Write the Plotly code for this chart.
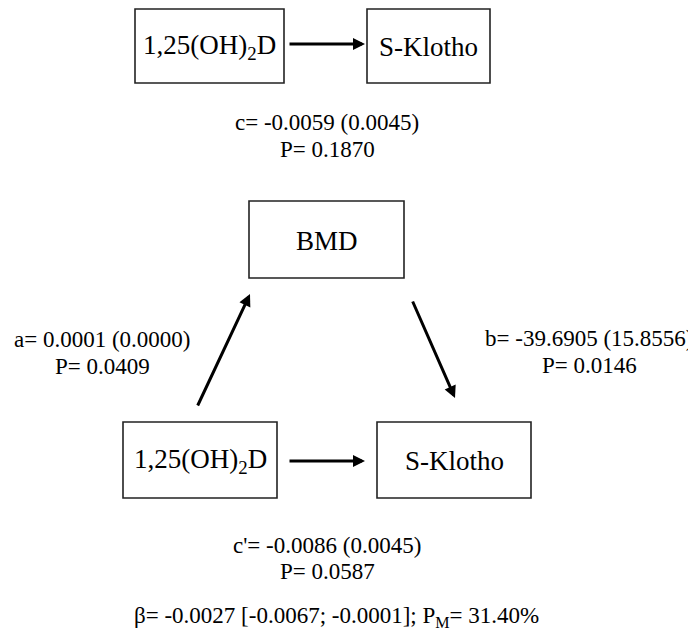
import plotly.graph_objects as go

# ---- data ----
exposure = "1,25(OH)<sub>2</sub>D"
outcome = "S-Klotho"
mediator = "BMD"

path_names = ["c", "a", "b", "c'"]
path_coef = [-0.0059, 0.0001, -39.6905, -0.0086]
path_se = [0.0045, 0.0000, 15.8556, 0.0045]
path_p = [0.1870, 0.0409, 0.0146, 0.0587]

indirect_beta = -0.0027
indirect_ci = [-0.0067, -0.0001]
prop_mediated = 31.40

# ---- layout geometry (pixels of the 696x637 window) ----
W, H = 696, 637
PAD = 8  # default page body margin
FONT = "Liberation Serif, Times New Roman, serif"
BOX_FS = 27
TXT_FS = 23

boxes = {
    "top_exp": (135, 9, 284, 83),
    "top_out": (367, 9, 490, 83),
    "med": (249, 201, 404, 278),
    "bot_exp": (123, 422, 277, 498),
    "bot_out": (377, 422, 531, 498),
}
box_labels = {
    "top_exp": exposure, "top_out": outcome, "med": mediator,
    "bot_exp": exposure, "bot_out": outcome,
}

arrows = [  # (tail_x, tail_y, head_x, head_y)
    (288, 44, 365, 44),
    (197, 407, 250, 294),
    (412, 300, 455, 398),
    (288, 461, 365, 461),
]

# label line positions for each path: (center_x, y_line1, y_line2)
label_pos = [(327, 122, 149), (102, 339, 366), (589, 338, 365), (327, 545, 571)]

fig = go.Figure()
shapes = []
annotations = []

for key, (x0, y0, x1, y1) in boxes.items():
    shapes.append(dict(type="rect", xref="x", yref="y", x0=x0, y0=y0, x1=x1, y1=y1,
                       line=dict(color="#222222", width=1.6), fillcolor="white", layer="below"))
    annotations.append(dict(x=(x0 + x1) / 2, y=(y0 + y1) / 2 + 1, xref="x", yref="y",
                            text=box_labels[key], showarrow=False,
                            font=dict(family=FONT, size=BOX_FS, color="black"),
                            xanchor="center", yanchor="middle"))

for (tx, ty, hx, hy) in arrows:
    annotations.append(dict(x=hx, y=hy, ax=tx, ay=ty, xref="x", yref="y",
                            axref="x", ayref="y", text="", showarrow=True,
                            arrowhead=2, arrowsize=0.8, arrowwidth=3, arrowcolor="black"))

for name, c, s, p, (cx, y1, y2) in zip(path_names, path_coef, path_se, path_p, label_pos):
    annotations.append(dict(x=cx, y=y1, xref="x", yref="y",
                            text=f"{name}= {c:.4f} ({s:.4f})", showarrow=False,
                            font=dict(family=FONT, size=TXT_FS, color="black"),
                            xanchor="center", yanchor="middle"))
    annotations.append(dict(x=cx, y=y2, xref="x", yref="y",
                            text=f"P= {p:.4f}", showarrow=False,
                            font=dict(family=FONT, size=TXT_FS, color="black"),
                            xanchor="center", yanchor="middle"))

annotations.append(dict(
    x=336, y=617, xref="x", yref="y",
    text=(f"β= {indirect_beta:.4f} [{indirect_ci[0]:.4f}; {indirect_ci[1]:.4f}]; "
          f"P<sub>M</sub>= {prop_mediated:.2f}%"),
    showarrow=False, font=dict(family=FONT, size=TXT_FS, color="black"),
    xanchor="center", yanchor="middle"))

fig.update_layout(
    width=W - PAD, height=H - PAD, margin=dict(l=0, r=0, t=0, b=0),
    paper_bgcolor="white", plot_bgcolor="white",
    xaxis=dict(range=[PAD, W], visible=False, fixedrange=True),
    yaxis=dict(range=[H, PAD], visible=False, fixedrange=True),
    shapes=shapes, annotations=annotations, showlegend=False,
)

fig.write_html("out.html")
